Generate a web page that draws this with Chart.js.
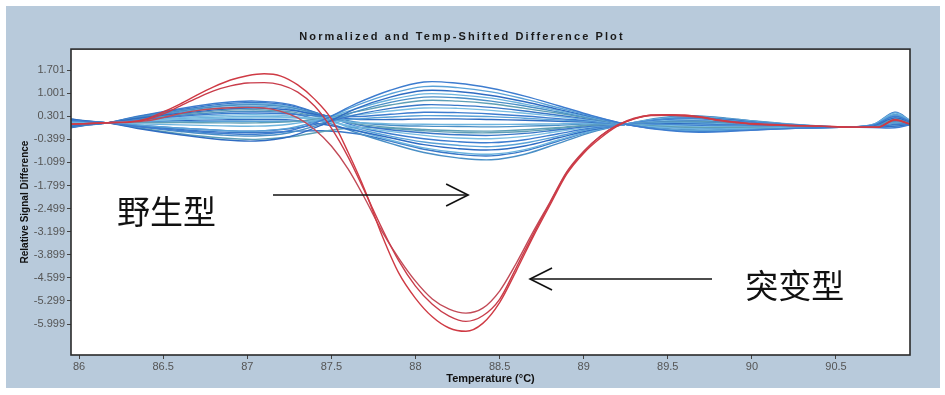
<!DOCTYPE html>
<html><head><meta charset="utf-8">
<script src="https://cdn.jsdelivr.net/npm/chart.js@4.4.1/dist/chart.umd.min.js"></script>
<style>html,body{margin:0;padding:0;background:#fff;overflow:hidden}canvas{display:block}</style>
</head><body>
<canvas id="c" width="945" height="395"></canvas>
<script>
// ---- tick labels ----
const xTickValues = [86, 86.5, 87, 87.5, 88, 88.5, 89, 89.5, 90, 90.5];
const yTickValues = [1.701, 1.001, 0.301, -0.399, -1.099, -1.799, -2.499, -3.199, -3.899, -4.599, -5.299, -5.999];

// ---- mutant (red) curves ----
const mutTemps = [85.95,86.1,86.2,86.3,86.4,86.5,86.6,86.7,86.8,86.9,87.0,87.1,87.2,87.3,87.4,87.5,87.6,87.7,87.8,87.9,88.0,88.1,88.2,88.3,88.4,88.5,88.6,88.7,88.8,88.9,89.0,89.1,89.2,89.3,89.4,89.5,89.6,89.7,89.8,89.9,90.0,90.2,90.4,90.6,90.75,90.85,90.94];
const mutA = [0.06,0.09,0.11,0.13,0.22,0.43,0.67,0.94,1.19,1.40,1.53,1.59,1.52,1.25,0.82,0.22,-0.80,-1.95,-3.30,-4.45,-5.22,-5.78,-6.12,-6.22,-5.98,-5.35,-4.38,-3.35,-2.39,-1.45,-0.82,-0.36,0.00,0.22,0.34,0.35,0.34,0.28,0.19,0.13,0.08,0.03,0.00,-0.03,-0.03,0.19,0.06];
const mutB = [0.06,0.09,0.11,0.13,0.19,0.37,0.61,0.85,1.07,1.22,1.31,1.32,1.25,1.03,0.61,-0.06,-0.94,-2.00,-3.09,-4.08,-4.85,-5.40,-5.76,-5.92,-5.75,-5.25,-4.28,-3.28,-2.33,-1.40,-0.78,-0.30,0.03,0.24,0.33,0.34,0.32,0.27,0.18,0.12,0.07,0.03,0.00,-0.03,-0.03,0.20,0.07];
const mutC = [0.06,0.09,0.11,0.12,0.16,0.26,0.38,0.47,0.53,0.56,0.57,0.55,0.45,0.25,-0.10,-0.60,-1.30,-2.20,-3.18,-4.00,-4.70,-5.24,-5.55,-5.67,-5.52,-5.00,-4.15,-3.20,-2.30,-1.38,-0.76,-0.30,0.03,0.22,0.32,0.33,0.31,0.26,0.17,0.11,0.06,0.02,0.00,-0.03,-0.03,0.18,0.06];

// ---- wild type (blue) curves ----
const wtTemps = [85.95,86.05,86.17,86.35,86.6,86.85,87.05,87.25,87.45,87.65,87.85,88.05,88.25,88.45,88.65,88.85,89.05,89.25,89.45,89.65,89.85,90.05,90.3,90.55,90.72,90.85,90.94];
const wt01 = [0.18,0.14,0.10,-0.01,-0.13,-0.22,-0.25,-0.14,0.19,0.69,1.09,1.34,1.30,1.15,0.91,0.62,0.32,0.06,-0.10,-0.18,-0.16,-0.11,-0.06,-0.03,0.03,0.30,0.14];
const wt02 = [0.16,0.13,0.10,0.03,-0.06,-0.13,-0.15,-0.06,0.21,0.63,0.98,1.20,1.17,1.04,0.82,0.56,0.30,0.06,-0.08,-0.14,-0.12,-0.09,-0.06,-0.03,0.04,0.35,0.16];
const wt03 = [0.22,0.16,0.10,-0.07,-0.26,-0.41,-0.45,-0.32,0.05,0.54,0.88,1.08,1.05,0.93,0.74,0.51,0.28,0.06,-0.09,-0.16,-0.14,-0.10,-0.06,-0.03,0.02,0.25,0.13];
const wt04 = [0.12,0.11,0.10,0.07,0.04,0.01,0.00,0.06,0.23,0.53,0.80,0.98,0.95,0.85,0.67,0.47,0.26,0.06,-0.03,-0.08,-0.08,-0.06,-0.04,-0.03,0.05,0.40,0.17];
const wt05 = [0.19,0.14,0.10,-0.02,-0.16,-0.27,-0.30,-0.20,0.08,0.45,0.72,0.88,0.86,0.76,0.61,0.43,0.24,0.06,-0.06,-0.11,-0.10,-0.08,-0.05,-0.03,0.00,0.15,0.10];
const wt06 = [0.10,0.10,0.10,0.10,0.11,0.10,0.10,0.13,0.24,0.44,0.64,0.78,0.76,0.68,0.54,0.39,0.22,0.06,0.00,-0.04,-0.04,-0.04,-0.04,-0.03,0.01,0.20,0.11];
const wt07 = [0.16,0.13,0.10,0.03,-0.06,-0.13,-0.15,-0.08,0.10,0.35,0.54,0.65,0.63,0.57,0.46,0.33,0.20,0.06,-0.02,-0.06,-0.06,-0.05,-0.04,-0.03,-0.02,0.05,0.07];
const wt08 = [0.07,0.09,0.10,0.15,0.20,0.24,0.25,0.25,0.26,0.34,0.46,0.55,0.54,0.48,0.39,0.29,0.18,0.06,0.02,-0.01,-0.02,-0.03,-0.03,-0.03,0.03,0.30,0.14];
const wt09 = [0.03,0.07,0.10,0.19,0.30,0.38,0.40,0.37,0.30,0.29,0.36,0.42,0.41,0.37,0.31,0.23,0.16,0.06,0.04,0.02,0.00,-0.01,-0.02,-0.03,-0.04,-0.05,0.04];
const wt10 = [0.09,0.10,0.10,0.12,0.13,0.15,0.15,0.15,0.16,0.22,0.28,0.32,0.31,0.29,0.24,0.19,0.14,0.06,0.05,0.04,0.02,0.00,-0.02,-0.03,-0.01,0.10,0.08];
const wt11 = [0.00,0.06,0.10,0.24,0.39,0.51,0.55,0.49,0.32,0.21,0.20,0.22,0.22,0.20,0.18,0.15,0.12,0.06,0.07,0.07,0.04,0.02,-0.01,-0.03,-0.03,0.00,0.05];
const wt12 = [0.06,0.08,0.10,0.16,0.23,0.28,0.30,0.27,0.19,0.11,0.07,0.06,0.05,0.05,0.06,0.07,0.09,0.06,0.09,0.09,0.06,0.03,-0.01,-0.03,0.02,0.25,0.13];
const wt13 = [-0.02,0.05,0.10,0.27,0.46,0.61,0.65,0.57,0.34,0.12,0.03,0.00,-0.01,-0.02,0.00,0.03,0.07,0.06,0.11,0.12,0.08,0.04,0.00,-0.03,0.04,0.35,0.16];
const wt14 = [0.01,0.06,0.10,0.22,0.36,0.47,0.50,0.44,0.26,0.07,-0.04,-0.10,-0.14,-0.15,-0.11,-0.04,0.04,0.06,0.12,0.14,0.10,0.05,0.00,-0.03,-0.01,0.10,0.08];
const wt15 = [-0.04,0.04,0.10,0.29,0.50,0.67,0.72,0.63,0.34,0.05,-0.11,-0.20,-0.26,-0.28,-0.22,-0.11,0.00,0.06,0.13,0.16,0.12,0.06,0.00,-0.03,0.05,0.42,0.18];
const wt16 = [0.05,0.08,0.10,0.18,0.26,0.33,0.35,0.31,0.16,-0.02,-0.16,-0.28,-0.36,-0.38,-0.31,-0.16,-0.02,0.06,0.15,0.18,0.13,0.07,0.01,-0.03,-0.02,0.05,0.07];
const wt17 = [-0.05,0.03,0.10,0.30,0.53,0.71,0.76,0.66,0.34,-0.01,-0.23,-0.38,-0.47,-0.50,-0.41,-0.23,-0.05,0.06,0.18,0.22,0.16,0.09,0.02,-0.03,0.03,0.30,0.14];
const wt18 = [-0.01,0.05,0.10,0.25,0.43,0.56,0.60,0.53,0.25,-0.07,-0.30,-0.48,-0.58,-0.62,-0.51,-0.30,-0.08,0.06,0.19,0.24,0.18,0.10,0.02,-0.03,0.00,0.15,0.10];
const wt19 = [0.08,0.09,0.10,0.13,0.17,0.19,0.20,0.19,0.06,-0.14,-0.35,-0.56,-0.68,-0.72,-0.60,-0.35,-0.11,0.06,0.20,0.26,0.20,0.11,0.02,-0.03,0.01,0.20,0.11];
const wt20 = [-0.03,0.04,0.10,0.27,0.48,0.63,0.68,0.59,0.27,-0.13,-0.42,-0.66,-0.80,-0.85,-0.71,-0.42,-0.14,0.06,0.23,0.29,0.22,0.12,0.03,-0.03,0.04,0.35,0.16];
const wt21 = [0.02,0.07,0.10,0.21,0.33,0.42,0.45,0.40,0.15,-0.20,-0.52,-0.80,-0.96,-1.02,-0.85,-0.52,-0.18,0.06,0.25,0.32,0.24,0.14,0.04,-0.03,-0.03,0.00,0.05];
const wt22 = [0.21,0.15,0.10,-0.05,-0.23,-0.36,-0.40,-0.33,-0.16,-0.04,-0.07,-0.14,-0.19,-0.20,-0.16,-0.07,0.03,0.06,0.12,0.14,0.10,0.05,0.00,-0.03,0.02,0.25,0.13];
const wt23 = [0.17,0.13,0.10,0.01,-0.10,-0.18,-0.20,-0.16,-0.14,-0.23,-0.45,-0.70,-0.85,-0.90,-0.75,-0.45,-0.15,0.06,0.23,0.30,0.23,0.13,0.03,-0.03,-0.01,0.10,0.08];

// ---- annotation placement (data units) ----
const noteWT = {text: '野生型', x: 86.226, y: -2.60};
const noteMut = {text: '突变型', x: 89.96, y: -4.82};
const arrowWT = {x1: 87.153, x2: 88.313, y: -2.088};
const arrowMut = {x1: 89.763, x2: 88.681, y: -4.634};

const wtSeries = [wt01,wt02,wt03,wt04,wt05,wt06,wt07,wt08,wt09,wt10,wt11,wt12,wt13,wt14,wt15,wt16,wt17,wt18,wt19,wt20,wt21,wt22,wt23];
const mutSeries = [mutA, mutB, mutC];
const bluePalette = ['#3d7ccf','#5aa2d8','#2f6cc2','#6db4de','#4a8fc6','#5e9fb6','#3a78c8','#78bde2'];
const redPalette = ['#cf3a44','#c93d4b','#c24a57'];

const toPts = (temps, vals) => temps.map((t, i) => ({x: t, y: vals[i]}));
const datasets = [];
mutSeries.forEach((s, i) => datasets.push({data: toPts(mutTemps, s), borderColor: redPalette[i], borderWidth: 1.4, pointRadius: 0, cubicInterpolationMode: 'monotone', order: 0}));
wtSeries.forEach((s, i) => datasets.push({data: toPts(wtTemps, s), borderColor: bluePalette[i % bluePalette.length], borderWidth: 1.4, pointRadius: 0, tension: 0.35, order: 1}));

const framePlugin = {
  id: 'frame',
  beforeDraw(chart) {
    const c = chart.ctx, a = chart.chartArea;
    c.save();
    c.fillStyle = '#ffffff'; c.fillRect(0, 0, chart.width, chart.height);
    c.fillStyle = '#b8cadb'; c.fillRect(6, 6, 934, 382);
    c.fillStyle = '#ffffff'; c.fillRect(a.left, a.top, a.right - a.left, a.bottom - a.top);
    c.restore();
    const tb = chart.titleBlock;
    if (tb && !tb._spaced) {
      const orig = tb.draw.bind(tb);
      tb.draw = function (area) { const cx = chart.ctx; cx.save(); try { cx.letterSpacing = '2.1px'; } catch (e) {} orig(area); cx.restore(); };
      tb._spaced = true;
    }
  },
  afterDatasetsDraw(chart) {
    const c = chart.ctx, a = chart.chartArea, xs = chart.scales.x, ys = chart.scales.y;
    c.save();
    c.strokeStyle = '#2a2a2a'; c.lineWidth = 1.6;
    c.strokeRect(a.left, a.top, a.right - a.left, a.bottom - a.top);
    // arrows
    c.strokeStyle = '#111'; c.lineWidth = 1.6;
    [arrowWT, arrowMut].forEach(ar => {
      const x1 = xs.getPixelForValue(ar.x1), x2 = xs.getPixelForValue(ar.x2), y = ys.getPixelForValue(ar.y);
      const dir = x2 > x1 ? 1 : -1;
      c.beginPath(); c.moveTo(x1, y); c.lineTo(x2, y); c.stroke();
      c.beginPath(); c.moveTo(x2 - dir * 22, y - 11); c.lineTo(x2, y); c.lineTo(x2 - dir * 22, y + 11); c.stroke();
    });
    c.fillStyle = '#111';
    c.font = '33px "Noto Sans CJK SC"';
    c.textAlign = 'left'; c.textBaseline = 'middle';
    [noteWT, noteMut].forEach(n => c.fillText(n.text, xs.getPixelForValue(n.x), ys.getPixelForValue(n.y)));
    c.restore();
  }
};

new Chart(document.getElementById('c'), {
  type: 'line',
  data: {datasets},
  options: {
    responsive: false, animation: false, events: [],
    layout: {padding: {left: 14, right: 35, top: 0, bottom: 0}},
    plugins: {
      legend: {display: false}, tooltip: {enabled: false},
      title: {display: true, text: 'Normalized and Temp-Shifted Difference Plot', color: '#1a1a1a',
        font: {family: '"Liberation Sans", Arial, sans-serif', size: 11, weight: 'bold', lineHeight: 1.1},
        padding: {top: 31, bottom: 6}}
    },
    scales: {
      x: {type: 'linear', min: 85.952, max: 90.94,
        afterBuildTicks: s => { s.ticks = xTickValues.map(v => ({value: v})); },
        afterFit: s => { s.height = 40; },
        ticks: {callback: v => String(v), color: '#555', padding: 1, maxRotation: 0, autoSkip: false,
          font: {family: '"Liberation Sans", Arial, sans-serif', size: 11}},
        grid: {display: true, drawOnChartArea: false, drawTicks: true, tickLength: 4, color: '#444'},
        border: {display: false},
        title: {display: true, text: 'Temperature (°C)', color: '#111', padding: {top: 0, bottom: 9},
          font: {family: '"Liberation Sans", Arial, sans-serif', size: 11, weight: 'bold'}}
      },
      y: {type: 'linear', min: -6.939, max: 2.337,
        afterBuildTicks: s => { s.ticks = yTickValues.map(v => ({value: v})); },
        afterFit: s => { s.width = 57; },
        ticks: {callback: v => v.toFixed(3), color: '#555', padding: 2, autoSkip: false,
          font: {family: '"Liberation Sans", Arial, sans-serif', size: 11}},
        grid: {display: true, drawOnChartArea: false, drawTicks: true, tickLength: 4, color: '#444'},
        border: {display: false},
        title: {display: true, text: 'Relative Signal Difference', color: '#111', padding: {top: 5, bottom: 0},
          font: {family: '"Liberation Sans", Arial, sans-serif', size: 10, weight: 'bold'}}
      }
    }
  },
  plugins: [framePlugin]
});
</script>
</body></html>
